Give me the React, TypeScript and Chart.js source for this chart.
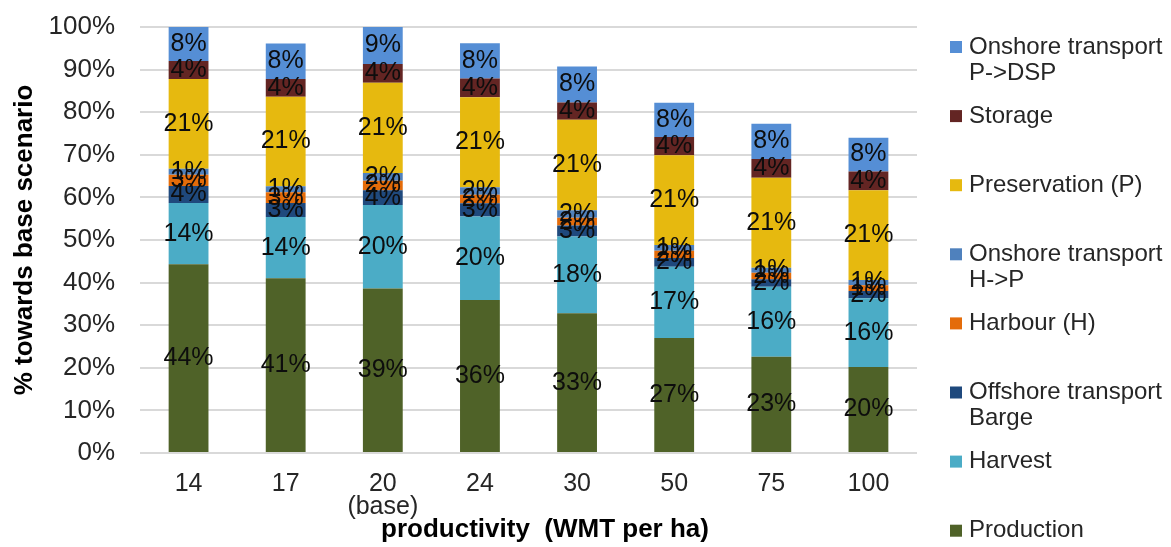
import React, { useEffect, useRef } from "react";
import { Chart, registerables } from "chart.js";

Chart.register(...registerables);

const categories: (string | string[])[] = ["14", "17", ["20", "(base)"], "24", "30", "50", "75", "100"];

const production = [44.3, 41.0, 38.6, 35.9, 32.8, 27.0, 22.6, 20.2];
const harvest = [14.4, 14.4, 19.6, 19.6, 18.0, 16.7, 16.4, 16.1];
const offshoreBarge = [4.0, 3.3, 3.5, 3.1, 2.6, 2.1, 1.8, 1.7];
const harbour = [2.6, 2.5, 2.2, 2.0, 1.8, 1.7, 1.5, 1.4];
const onshoreHP = [1.4, 1.4, 1.8, 1.8, 1.8, 1.3, 1.2, 1.2];
const preservation = [21.1, 21.0, 21.2, 21.1, 21.2, 21.1, 21.1, 21.1];
const storage = [4.2, 4.2, 4.4, 4.4, 4.1, 4.3, 4.4, 4.4];
const onshorePDSP = [8.1, 8.3, 8.7, 8.3, 8.4, 8.0, 8.3, 7.9];

const yTicks = [0, 10, 20, 30, 40, 50, 60, 70, 80, 90, 100];

const xTitle = "productivity  (WMT per ha)";
const yTitle = "% towards base scenario";

const FONT = "'Liberation Sans', Arial, sans-serif";

const seriesDefs = [
  { label: ["Production"], data: production, color: "#4F6228" },
  { label: ["Harvest"], data: harvest, color: "#4BACC6" },
  { label: ["Offshore transport", "Barge"], data: offshoreBarge, color: "#1F497D" },
  { label: ["Harbour (H)"], data: harbour, color: "#E46C0A" },
  { label: ["Onshore transport", "H->P"], data: onshoreHP, color: "#4F81BD" },
  { label: ["Preservation (P)"], data: preservation, color: "#E6B90F" },
  { label: ["Storage"], data: storage, color: "#632523" },
  { label: ["Onshore transport", "P->DSP"], data: onshorePDSP, color: "#558ED5" },
];

const dataLabelPlugin = {
  id: "segLabels",
  afterDatasetsDraw(chart: any) {
    const ctx = chart.ctx;
    ctx.save();
    ctx.font = `25px ${FONT}`;
    ctx.fillStyle = "#0d0d0d";
    ctx.textAlign = "center";
    ctx.textBaseline = "middle";
    chart.data.datasets.forEach((ds: any, di: number) => {
      const meta = chart.getDatasetMeta(di);
      meta.data.forEach((el: any, i: number) => {
        const v = ds.data[i];
        const y = (el.y + el.base) / 2;
        ctx.fillText(`${Math.round(v)}%`, el.x, y);
      });
    });
    ctx.restore();
  },
};

const legendPlugin = {
  id: "sideLegend",
  afterDraw(chart: any) {
    const ctx = chart.ctx;
    ctx.save();
    ctx.font = `24px ${FONT}`;
    ctx.textAlign = "left";
    ctx.textBaseline = "middle";
    const items = [...seriesDefs].reverse();
    items.forEach((s, i) => {
      const y0 = 47 + i * 69.1;
      ctx.fillStyle = s.color;
      ctx.fillRect(950, y0 - 6, 12, 12);
      ctx.fillStyle = "#262626";
      s.label.forEach((line, li) => {
        ctx.fillText(line, 969, y0 + li * 26);
      });
    });
    // x axis title
    ctx.font = `bold 26px ${FONT}`;
    ctx.fillStyle = "#000";
    ctx.textAlign = "center";
    ctx.fillText(xTitle, 545, 530);
    ctx.restore();
  },
};

export default function App() {
  const ref = useRef<HTMLCanvasElement | null>(null);
  useEffect(() => {
    if (!ref.current) return;
    const chart = new Chart(ref.current, {
      type: "bar",
      data: {
        labels: categories as any,
        datasets: seriesDefs.map((s) => ({
          label: s.label.join(" "),
          data: s.data,
          backgroundColor: s.color,
          borderWidth: 0,
          barPercentage: 0.41,
          categoryPercentage: 1,
        })),
      },
      options: {
        animation: false,
        responsive: true,
        maintainAspectRatio: false,
        layout: { padding: { left: 0, top: 27, right: 254, bottom: 0 } },
        plugins: {
          legend: { display: false },
          tooltip: { enabled: false },
          title: { display: false },
        },
        scales: {
          x: {
            stacked: true,
            grid: { display: false },
            border: { display: false },
            ticks: {
              color: "#262626",
              font: { family: FONT, size: 25, lineHeight: 0.92 },
              padding: 12,
              maxRotation: 0,
              autoSkip: false,
            },
            afterFit: (scale: any) => {
              scale.height = 94;
            },
          },
          y: {
            stacked: true,
            min: 0,
            max: 100,
            afterBuildTicks: (scale: any) => {
              scale.ticks = yTicks.map((v) => ({ value: v }));
            },
            grid: {
              color: "#d9d9d9",
              lineWidth: 2,
              drawTicks: true,
              tickLength: 25,
              tickColor: "rgba(0,0,0,0)",
            },
            border: { display: false },
            ticks: {
              color: "#262626",
              font: { family: FONT, size: 26 },
              padding: 0,
              callback: (v: any) => `${v}%`,
            },
            title: {
              display: true,
              text: yTitle,
              color: "#000",
              font: { family: FONT, size: 26, weight: "bold", lineHeight: 1.2 },
              padding: { top: 9, bottom: 0 },
            },
            afterFit: (scale: any) => {
              scale.width = 140;
            },
          },
        },
      } as any,
      plugins: [dataLabelPlugin, legendPlugin],
    });
    return () => chart.destroy();
  }, []);
  return (
    <div style={{ position: "fixed", left: 0, top: 0, width: 1171, height: 547, background: "#fff" }}>
      <canvas ref={ref} />
    </div>
  );
}
